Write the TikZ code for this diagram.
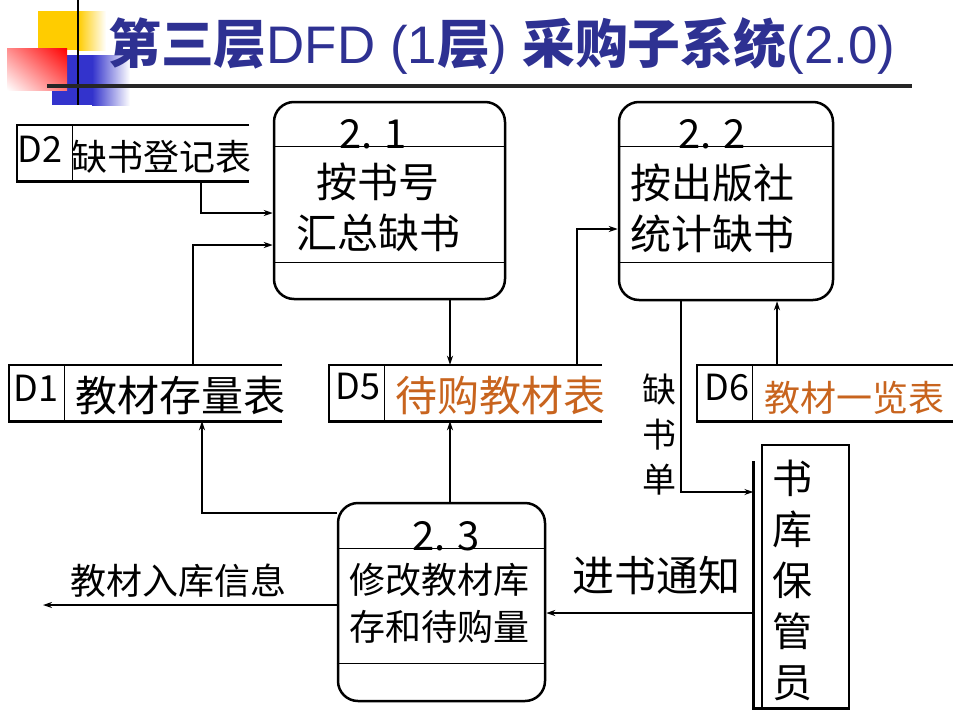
\documentclass[tikz,border=0pt]{standalone}
\usepackage{graphicx}
\usepackage{fontspec}
\setmainfont{Noto Sans CJK SC}
\newfontfamily\latfont{Liberation Sans}
\usetikzlibrary{arrows.meta,shadings}
\definecolor{titleblue}{RGB}{46,49,146}
\definecolor{dsorange}{RGB}{200,100,30}
\definecolor{yellowc}{RGB}{255,204,0}
\definecolor{bluec}{RGB}{51,51,204}
\newcommand\myfs[2]{\fontsize{#1pt}{#2pt}\selectfont}
\begin{document}
\begin{tikzpicture}[x=1pt,y=-1pt,
  proc/.style={draw, line width=2.5pt, rounded corners=20pt, inner sep=0},
  div/.style={line width=1.2pt},
  ds/.style={line width=2.6pt},
  store/.style={inner sep=0, minimum height=56pt},
  flow/.style={line width=2.2pt, -{Stealth[length=9pt,width=6pt]}},
  txt/.style={inner sep=0, align=center},
]
\useasboundingbox (0,0) rectangle (960,720);

% decoration
\fill[yellowc] (38,11) rectangle (78,50);
\shade[left color=yellowc, right color=white] (78,11) rectangle (106,50);
\fill[bluec] (52,55) rectangle (92,105);
\shade[left color=bluec, right color=white] (92,55) rectangle (130,105);
\shade[upper right=red, lower left=white, upper left=red!45!white, lower right=red!55!white] (7,48) rectangle (67,90);
\draw[line width=2.5pt] (78,0) -- (78,105);
\draw[line width=3.5pt, black!85] (47,86) -- (912,86);

% title
\node[anchor=base west, inner sep=0, text=titleblue] (title) at (108,63)
  {\resizebox{787pt}{!}{\myfs{50}{60}{\bfseries 第三层}{\latfont DFD (1}{\bfseries 层}{\latfont ) }{\bfseries 采购子系统}{\latfont (2.0)}}};

% processes
\node[proc, minimum width=231pt, minimum height=197pt] (p1) at (389.5,200.5) {};
\draw[div] ([yshift=-46pt]p1.north west) -- ([yshift=-46pt]p1.north east);
\draw[div] ([yshift=38pt]p1.south west) -- ([yshift=38pt]p1.south east);
\node[txt, anchor=base, font=\myfs{40}{48}] (p1n) at (373,148) {2. 1};
\node[txt, font=\myfs{41}{51}] (p1t) at (378,207) {按书号\\汇总缺书};

\node[proc, minimum width=214pt, minimum height=198pt] (p2) at (726,201) {};
\draw[div] ([yshift=-46pt]p2.north west) -- ([yshift=-46pt]p2.north east);
\draw[div] ([yshift=39pt]p2.south west) -- ([yshift=39pt]p2.south east);
\node[txt, anchor=base, font=\myfs{40}{48}] (p2n) at (712,148) {2. 2};
\node[txt, font=\myfs{41}{51}] (p2t) at (712,208) {按出版社\\统计缺书};

\node[proc, minimum width=207pt, minimum height=198pt] (p3) at (441.5,602) {};
\draw[div] ([yshift=-47pt]p3.north west) -- ([yshift=-47pt]p3.north east);
\draw[div] ([yshift=39pt]p3.south west) -- ([yshift=39pt]p3.south east);
\node[txt, anchor=base, font=\myfs{40}{48}] (p3n) at (446,550) {2. 3};
\node[txt, font=\myfs{36}{47}] (p3t) at (439,603) {修改教材库\\存和待购量};

% data stores
\node[store, minimum width=232pt] (d2) at (133,153) {};
\draw[ds] (d2.north east) -- (d2.north west) -- (d2.south west) -- (d2.south east);
\draw[div] ([xshift=56pt]d2.north west) -- ([xshift=56pt]d2.south west);
\node[txt, font=\myfs{36}{40}] (d2id) at (40,149) {D2};
\node[txt, font=\myfs{36}{40}] (d2t) at (161,157) {缺书登记表};

\node[store, minimum width=273pt] (d1) at (145.5,393) {};
\draw[ds] (d1.north east) -- (d1.north west) -- (d1.south west) -- (d1.south east);
\draw[div] ([xshift=56pt]d1.north west) -- ([xshift=56pt]d1.south west);
\node[txt, font=\myfs{36}{40}] (d1id) at (36,388) {D1};
\node[txt, font=\myfs{42}{46}] (d1t) at (180.5,396) {教材存量表};

\node[store, minimum width=273pt] (d5) at (465.5,393) {};
\draw[ds] (d5.north east) -- (d5.north west) -- (d5.south west) -- (d5.south east);
\draw[div] ([xshift=56pt]d5.north west) -- ([xshift=56pt]d5.south west);
\node[txt, font=\myfs{36}{40}] (d5id) at (358,387) {D5};
\node[txt, font=\myfs{42}{46}, text=dsorange] (d5t) at (500.5,396) {待购教材表};

\node[store, minimum width=256pt] (d6) at (825,393) {};
\draw[ds] (d6.north east) -- (d6.north west) -- (d6.south west) -- (d6.south east);
\draw[div] ([xshift=56pt]d6.north west) -- ([xshift=56pt]d6.south west);
\node[txt, font=\myfs{36}{40}] (d6id) at (727,388) {D6};
\node[txt, font=\myfs{36}{40}, text=dsorange] (d6t) at (854.5,398) {教材一览表};

% external entity
\node[draw, line width=1.3pt, minimum width=87pt, minimum height=263pt, inner sep=0] (e) at (805.5,576.5) {};
\draw[line width=3pt] ([shift={(-8pt,-17pt)}]e.north west) |- (e.south east);
\node[txt, font=\myfs{40}{51}] (et) at (792,580) {书\\库\\保\\管\\员};

% flows
\draw[flow] ([xshift=68pt]d2.south) |- ([yshift=-12.5pt]p1.west);
\draw[flow] ([xshift=47.5pt]d1.north) |- ([yshift=-44.5pt]p1.west);
\draw[flow] ([xshift=60.5pt]p1.south) -- ([xshift=-15.5pt]d5.north);
\draw[flow] ([xshift=111.5pt]d5.north) |- ([yshift=-28pt]p2.west);
\draw[flow] ([xshift=-48pt]d6.north) -- ([xshift=51pt]p2.south);
\draw[flow] ([xshift=-45pt]p2.south) |- ([shift={(-8pt,84.5pt)}]e.west);
\draw[flow] ([shift={(-8pt,-36.5pt)}]e.west) -- ([yshift=-11pt]p3.east);
\draw[flow] ([yshift=89pt]p3.west) -| ([xshift=56.5pt]d1.south);
\draw[flow] ([xshift=8.5pt]p3.north) -- ([xshift=-15.5pt]d5.south);
\coordinate (out) at (43,605);
\draw[flow] ([yshift=-3pt]p3.west) -- (out);

% flow labels
\node[txt, font=\myfs{34}{45}] (lq) at (659,435) {缺\\书\\单};
\node[txt, font=\myfs{42}{46}] (lj) at (656,575) {进书通知};
\node[txt, font=\myfs{36}{40}] (lr) at (178,581) {教材入库信息};
\end{tikzpicture}
\end{document}
